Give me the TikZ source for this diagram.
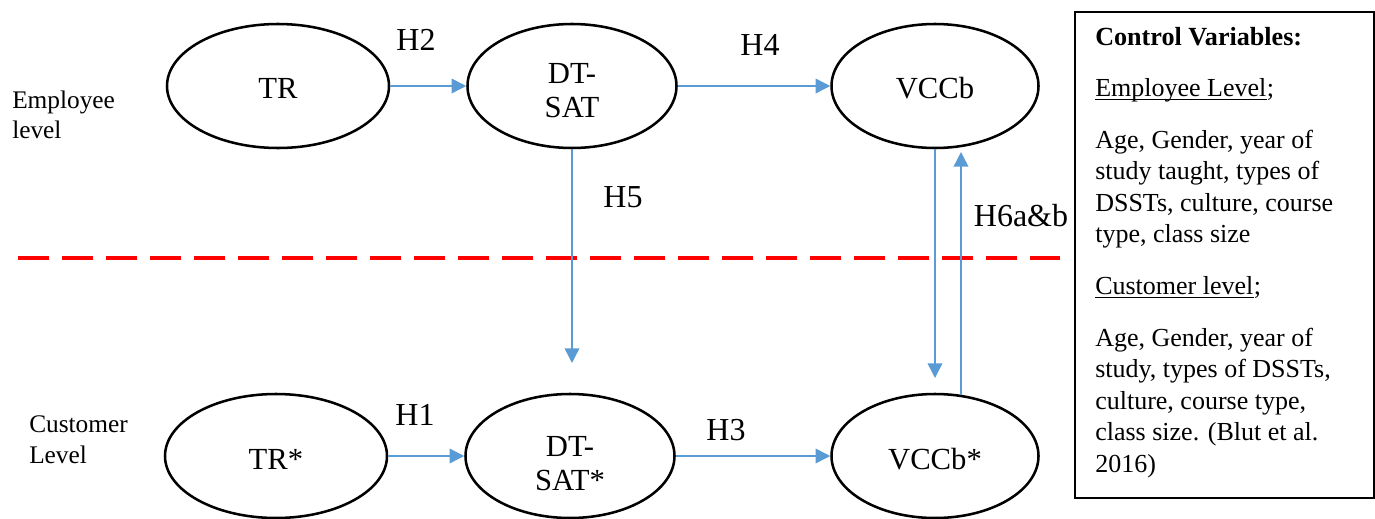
\documentclass[tikz,border=0pt]{standalone}
\usepackage{fontspec}
\setmainfont{Liberation Serif}
\usetikzlibrary{shapes.geometric,arrows.meta}
\definecolor{arrblue}{HTML}{5B9BD5}
\begin{document}
\begin{tikzpicture}[x=0.75pt,y=-0.75pt,
 ell/.style={draw, line width=1.9pt, ellipse, inner sep=0pt, minimum height=93pt},
 etext/.style={inner sep=0pt, font=\fontsize{23}{25.5}\selectfont, align=center},
 hlab/.style={inner sep=0pt, font=\fontsize{24}{28}\selectfont},
 side/.style={inner sep=0pt, anchor=base west, font=\fontsize{19}{22}\selectfont},
 btext/.style={inner sep=0pt, anchor=base west, font=\fontsize{19.5}{23}\selectfont},
 arr/.style={draw=arrblue, line width=1.1pt, -{Triangle[length=11pt,width=11pt]}},
 uline/.style={line width=1.1pt},
 divider/.style={draw=red, line width=3pt, dash pattern=on 23.5pt off 9.5pt},
 boxst/.style={draw, line width=1.5pt, inner sep=0pt, anchor=north west, minimum width=224.25pt, minimum height=364.5pt}
]
\useasboundingbox (0,0) rectangle (1375,518);

% divider
\coordinate (dl) at (18,258);
\coordinate (dr) at (1060,258);
\draw[divider] (dl) -- (dr);

% ellipses
\node[ell, minimum width=166.5pt] (tr) at (278,86) {};
\node[ell, minimum width=156.75pt] (dtsat) at (572,86) {};
\node[ell, minimum width=155.25pt] (vccb) at (935,86) {};
\node[ell, minimum width=166.5pt] (trs) at (276,456) {};
\node[ell, minimum width=156.75pt] (dtsats) at (570,456) {};
\node[ell, minimum width=155.25pt] (vccbs) at (935,456) {};

% ellipse texts
\node[etext] (trt) at (278,88) {TR};
\node[etext] (dtsatt) at (572,91) {DT-\\SAT};
\node[etext] (vccbt) at (935,88) {VCCb};
\node[etext] (trst) at (276,459) {TR*};
\node[etext] (dtsatst) at (570,464) {DT-\\SAT*};
\node[etext] (vccbst) at (935,459) {VCCb*};

% connectors
\coordinate (h5end) at (570,363);
\coordinate (dnend) at (935,378);
\coordinate (upend) at (960,152);
\draw[arr] (tr.east) -- (dtsat.west);
\draw[arr] (dtsat.east) -- (vccb.west);
\draw[arr] (dtsat.south) -- (dtsat.south |- h5end);
\draw[arr] (vccb.south) -- (vccb.south |- dnend);
\draw[arr] (vccbs.67.4) -- (vccbs.67.4 |- upend);
\draw[arr] (trs.east) -- (dtsats.west);
\draw[arr] (dtsats.east) -- (vccbs.west);

% hypothesis labels
\node[hlab] (h2) at (416,40) {H2};
\node[hlab] (h4) at (760,45) {H4};
\node[hlab] (h5) at (623,197) {H5};
\node[hlab] (h6) at (1021,216) {H6a\&b};
\node[hlab] (h1) at (415,415) {H1};
\node[hlab] (h3) at (726,430) {H3};

% level labels
\node[side] (emp1) at (12,108) {Employee};
\node[side] (emp2) at (12,138) {level};
\node[side] (cus1) at (29,432) {Customer};
\node[side] (cus2) at (29,463) {Level};

% control variables box
\node[boxst] (box) at (1074,11) {};
\node[btext, font=\fontsize{19.6}{23}\selectfont\bfseries] (cv) at (1095,45) {Control Variables:};
\node[btext] (el) at (1095,96) {Employee Level};
\node[btext] (elsemi) at (el.base east) {;};
\draw[uline] ([yshift=-2.6pt]el.base west) -- ([yshift=-2.6pt]el.base east);
\node[btext] (e1) at (1095,148) {Age, Gender, year of};
\node[btext] (e2) at (1095,179.5) {study taught, types of};
\node[btext] (e3) at (1095,211) {DSSTs, culture, course};
\node[btext] (e4) at (1095,242.5) {type, class size};
\node[btext] (cl) at (1095,294) {Customer level};
\node[btext] (clsemi) at (cl.base east) {;};
\draw[uline] ([yshift=-2.6pt]cl.base west) -- ([yshift=-2.6pt]cl.base east);
\node[btext] (c1) at (1095,346) {Age, Gender, year of};
\node[btext] (c2) at (1095,377.5) {study, types of DSSTs,};
\node[btext] (c3) at (1095,409) {culture, course type,};
\node[btext] (c4) at (1095,440.5) {class size. (Blut et al.};
\node[btext] (c5) at (1095,472) {2016)};
\end{tikzpicture}
\end{document}
